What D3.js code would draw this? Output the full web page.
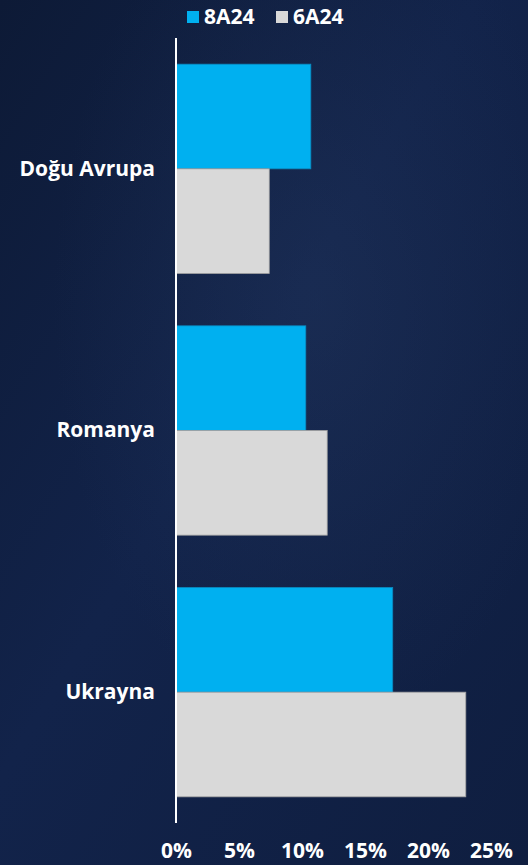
<!DOCTYPE html>
<html><head><meta charset="utf-8">
<script src="https://cdn.jsdelivr.net/npm/d3@7"></script>
<style>
html,body{margin:0;padding:0;background:#0f1c3b;}
svg{display:block;}
text{font-family:"Open Sans","Noto Sans",sans-serif;font-weight:700;fill:#fff;}
</style></head>
<body>
<svg id="chart" width="528" height="865"></svg>
<script>
const categories = ["Doğu Avrupa", "Romanya", "Ukrayna"];
const seriesNames = ["8A24", "6A24"];
const values8A24 = [10.7, 10.3, 17.2];
const values6A24 = [7.4, 12.0, 23.0];
const tickValues = [0, 5, 10, 15, 20, 25];
const colors = ["#00b0f0", "#d9d9d9"];
const strokes = ["#0a8ac0", "#a0a0a0"];

const W = 528, H = 865;
const svg = d3.select("#chart");
const defs = svg.append("defs");
const g1 = defs.append("linearGradient").attr("id","bg").attr("x1","0").attr("y1","0").attr("x2","1").attr("y2","1");
g1.append("stop").attr("offset","0").attr("stop-color","#0d1a36");
g1.append("stop").attr("offset","0.45").attr("stop-color","#12234a");
g1.append("stop").attr("offset","1").attr("stop-color","#0f1e40");
svg.append("rect").attr("width",W).attr("height",H).attr("fill","url(#bg)");
const rg = defs.append("radialGradient").attr("id","glow").attr("cx","0.6").attr("cy","0.35").attr("r","0.5");
rg.append("stop").attr("offset","0").attr("stop-color","#2a3f66").attr("stop-opacity",0.3);
rg.append("stop").attr("offset","1").attr("stop-color","#2a3f66").attr("stop-opacity",0);
svg.append("rect").attr("width",W).attr("height",H).attr("fill","url(#glow)");

const x = d3.scaleLinear().domain([0, 25]).range([176, 491]);
const y = d3.scaleBand().domain(categories).range([38, 823]).paddingInner(0.2).paddingOuter(0.1);
const ySub = d3.scaleBand().domain(seriesNames).range([0, y.bandwidth()]);

const data = categories.map((c, i) => ({cat: c, vals: [values8A24[i], values6A24[i]]}));

const groups = svg.append("g").selectAll("g").data(data).join("g")
  .attr("transform", d => `translate(0,${y(d.cat)})`);
groups.selectAll("rect").data(d => d.vals.map((v, j) => ({v, s: seriesNames[j], j})))
  .join("rect")
  .attr("x", x(0))
  .attr("y", d => ySub(d.s))
  .attr("width", d => x(d.v) - x(0))
  .attr("height", ySub.bandwidth())
  .attr("fill", d => colors[d.j])
  .attr("stroke", d => strokes[d.j])
  .attr("stroke-width", 0.8);

// category labels
const yAxis = d3.axisLeft(y).tickSize(0).tickPadding(21);
const ya = svg.append("g").attr("transform", `translate(${x(0)},0)`).call(yAxis);
ya.select(".domain").remove();
ya.selectAll("text").attr("font-size", 21).style("font-family","'Open Sans',sans-serif").attr("font-weight",700).attr("fill","#fff").attr("dy","0.32em");

// vertical axis line
svg.append("line").attr("x1", x(0)).attr("x2", x(0)).attr("y1", 38).attr("y2", 823)
  .attr("stroke", "#ffffff").attr("stroke-width", 2);

// x axis
const xAxis = d3.axisBottom(x).tickValues(tickValues).tickFormat(d => d + "%").tickSize(0).tickPadding(0);
const xa = svg.append("g").attr("transform", `translate(0,843)`).call(xAxis);
xa.select(".domain").remove();
xa.selectAll("text").attr("font-size", 21).style("font-family","'Open Sans',sans-serif").attr("font-weight",700).attr("fill","#fff").attr("dy","0.71em");

// legend
const legendX = [187, 276];
const lg = svg.append("g").selectAll("g").data(seriesNames).join("g")
  .attr("transform", (d, i) => `translate(${legendX[i]},10)`);
lg.append("rect").attr("width", 12).attr("height", 12).attr("y", 1).attr("fill", (d, i) => colors[i]);
lg.append("text").attr("x", 17).attr("y", 7).attr("dy", "0.35em").attr("font-size", 21).text(d => d);
</script>
</body></html>
